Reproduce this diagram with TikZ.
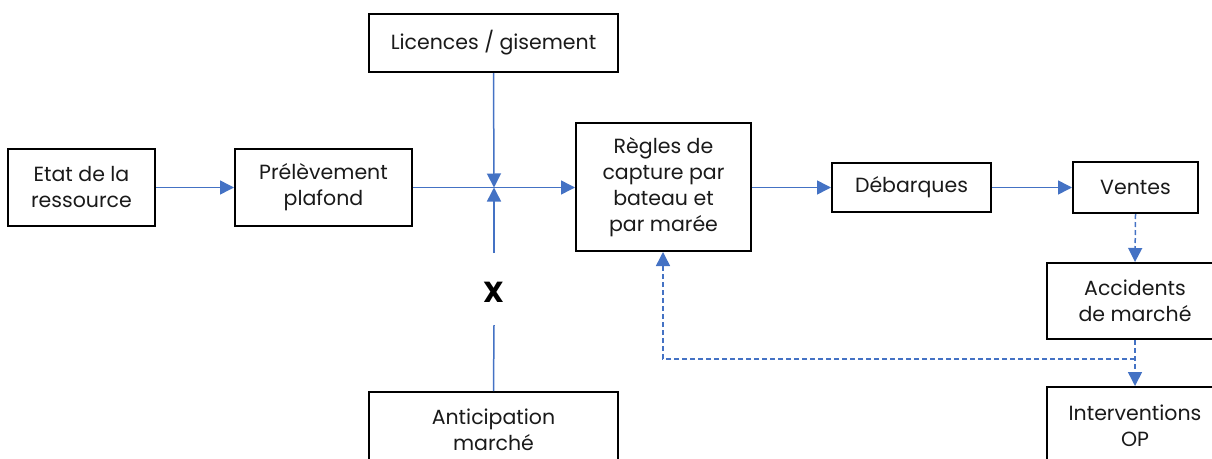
\documentclass[tikz,border=0pt]{standalone}
\usepackage{fontspec}
\setmainfont{Poppins}
\usetikzlibrary{arrows.meta}
\definecolor{lnblue}{HTML}{4472C4}
\definecolor{txt}{HTML}{1A1A1A}
\tikzset{
  box/.style={draw=black, line width=2pt, fill=white, text=txt, align=center, inner sep=0pt, font=\fontsize{20.5}{26}\selectfont},
  flow/.style={draw=lnblue, line width=1.5pt, -{Triangle[length=14pt,width=14pt]}},
  plain/.style={draw=lnblue, line width=1.5pt},
  dflow/.style={draw=lnblue, line width=1.5pt, dash pattern=on 5pt off 3pt, -{Triangle[length=14pt,width=14pt]}},
  dplain/.style={draw=lnblue, line width=1.5pt, dash pattern=on 5pt off 3pt}
}
\begin{document}
\begin{tikzpicture}[x=1pt,y=-1pt]
\useasboundingbox (0,0) rectangle (1212,458);
\clip (0,0) rectangle (1212,458);
\node[box, minimum width=147pt, minimum height=77pt] (etat) at (81.5,187.5) {Etat de la\\ressource};
\node[box, minimum width=177pt, minimum height=77pt] (prel) at (323.5,187.5) {Prélèvement\\plafond};
\node[box, minimum width=249pt, minimum height=58pt] (lic) at (493.5,43) {Licences / gisement};
\node[box, minimum width=249pt, minimum height=76pt] (anti) at (493.5,430) {Anticipation\\marché};
\node[box, minimum width=175pt, minimum height=128pt] (regles) at (663.5,187) {Règles de\\capture par\\bateau et\\par marée};
\node[box, minimum width=159pt, minimum height=49pt] (deb) at (911.5,187.5) {Débarques};
\node[box, minimum width=125pt, minimum height=51pt] (ventes) at (1135.5,187.5) {Ventes};
\node[box, minimum width=176pt, minimum height=76pt] (acc) at (1135,301) {Accidents\\de marché};
\node[box, minimum width=176pt, minimum height=78pt] (interv) at (1135,426) {Interventions\\OP};
\node[text=black, font=\fontsize{29}{32}\selectfont\bfseries] (x) at (494,292) {X};
\coordinate (j) at (494,187.5);
\coordinate (xtop) at (494,253);
\coordinate (xbot) at (494,325);
\coordinate (split) at (1135,359);
\coordinate (corner) at (663,359);
\draw[flow] (etat.east) -- (prel.west);
\draw[flow] (prel.east) -- (regles.west |- prel.east);
\draw[flow] (lic.south) -- (j);
\draw[flow] (xtop) -- (j);
\draw[plain] (xbot) -- (anti.north);
\draw[flow] (regles.east |- deb.west) -- (deb.west);
\draw[flow] (deb.east) -- (ventes.west);
\draw[dflow] (ventes.south) -- (acc.north);
\draw[dflow] (acc.south) -- (interv.north);
\draw[dflow] (split) -- (corner) -- (corner |- regles.south);
\end{tikzpicture}
\end{document}
